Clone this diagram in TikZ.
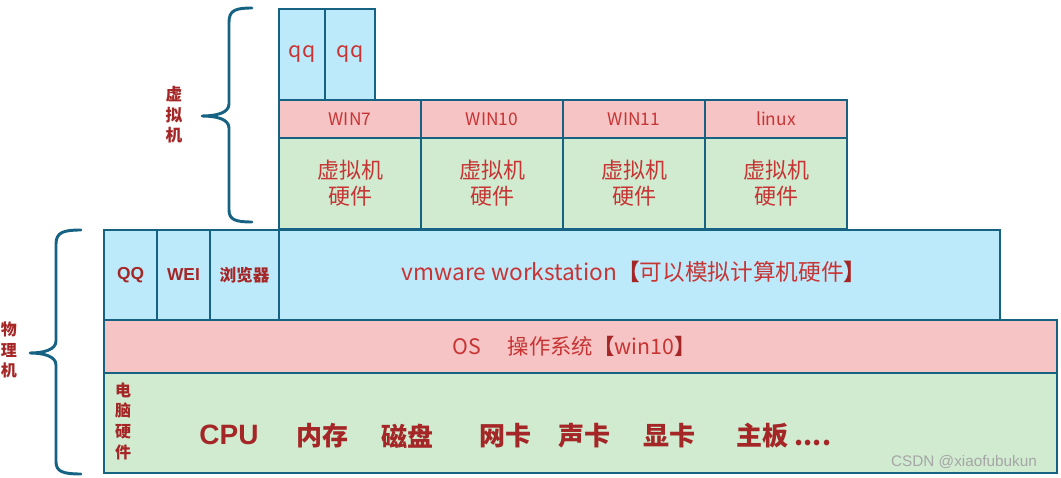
\documentclass[tikz,border=0pt]{standalone}
\usepackage{fontspec}
\setmainfont{Noto Sans CJK SC}
\newfontfamily\latinbd{Liberation Sans}
\definecolor{edge}{RGB}{22,98,130}
\definecolor{appblue}{RGB}{189,234,251}
\definecolor{ospink}{RGB}{246,196,196}
\definecolor{hwgreen}{RGB}{208,235,208}
\definecolor{lightred}{RGB}{200,52,52}
\definecolor{darkred}{RGB}{165,38,38}
\begin{document}
\begin{tikzpicture}[x=0.75pt,y=-0.75pt,
  blk/.style={draw=edge,line width=2pt},
  thin/.style={text=lightred,font=\fontsize{#1}{#1}\selectfont},
  thick/.style={text=darkred,font=\bfseries\fontsize{#1}{#1}\selectfont},
  vlab/.style={text=darkred,align=center,inner sep=0pt,font=\bfseries\fontsize{#1}{15.5}\selectfont},
  brc/.style={draw=edge,line width=2.2pt,line cap=round,line join=round}]
\useasboundingbox (0,0) rectangle (1061,478);

\draw[blk,fill=appblue] (279,9) rectangle node[thin=16] (qqa) {qq} (325,100);
\draw[blk,fill=appblue] (325,9) rectangle node[thin=16] (qqb) {qq} (375,100);

\draw[blk,fill=ospink] (279,100) rectangle node[thin=13] (win7) {WIN7} (421,138);
\draw[blk,fill=ospink] (421,100) rectangle node[thin=13] (win10) {WIN10} (563,138);
\draw[blk,fill=ospink] (563,100) rectangle node[thin=13] (win11) {WIN11} (705,138);
\draw[blk,fill=ospink] (705,100) rectangle node[thin=13] (linux) {linux} (847,138);

\draw[blk,fill=hwgreen] (279,138) rectangle node[thin=16.5,align=center] (vhwa) {虚拟机\\[3pt]硬件} (421,229);
\draw[blk,fill=hwgreen] (421,138) rectangle node[thin=16.5,align=center] (vhwb) {虚拟机\\[3pt]硬件} (563,229);
\draw[blk,fill=hwgreen] (563,138) rectangle node[thin=16.5,align=center] (vhwc) {虚拟机\\[3pt]硬件} (705,229);
\draw[blk,fill=hwgreen] (705,138) rectangle node[thin=16.5,align=center] (vhwd) {虚拟机\\[3pt]硬件} (847,229);

\draw[blk,fill=appblue] (104,230) rectangle node[thick=13,font=\latinbd\bfseries\fontsize{13}{13}\selectfont] (appqq) {QQ} (157,320);
\draw[blk,fill=appblue] (157,230) rectangle node[thick=13,font=\latinbd\bfseries\fontsize{13}{13}\selectfont] (appwei) {WEI} (210,320);
\draw[blk,fill=appblue] (210,230) rectangle node[thick=12.5] (browser) {浏览器} (279,320);
\draw[blk,fill=appblue] (279,230) rectangle (1000,320);
\node[thin=17] (vmware) at (634,272) {vmware workstation{\color{darkred}\bfseries【}可以模拟计算机硬件{\color{darkred}\bfseries】}};

\draw[blk,fill=ospink] (104,320) rectangle (1057,373);
\node[thin=16] (os) at (574,346) {OS\hspace{20pt}操作系统{\color{darkred}\bfseries【}win10{\color{darkred}\bfseries】}};

\draw[blk,fill=hwgreen] (104,373) rectangle (1057,473);
\node[vlab=12] (pchw) at (123,421) {电\\脑\\硬\\件};
\node[thick=21,font=\latinbd\bfseries\fontsize{21}{21}\selectfont] (cpu) at (229,435) {CPU};
\node[thick=19.5] (mem) at (322,436) {内存};
\node[thick=19.5] (disk) at (407,436) {磁盘};
\node[thick=19.5] (nic) at (505,436) {网卡};
\node[thick=19.5] (sound) at (584,436) {声卡};
\node[thick=19.5] (gpu) at (669,436) {显卡};
\node[thick=19.5] (board) at (784,436) {主板 ....};
\node[text=black!35,font=\latinbd\fontsize{11.5}{11.5}\selectfont] (mark) at (964,462) {CSDN @xiaofubukun};

\coordinate (vtop) at (252,8);
\coordinate (vtip) at (202,116);
\coordinate (vbot) at (252,222);
\draw[brc] (vtop) .. controls (236,8) and (229,10) .. (229,22) -- (229,104)
  .. controls (229,113) and (216,116) .. (vtip) .. controls (216,116) and (229,119) .. (229,128)
  -- (229,210) .. controls (229,220) and (236,222) .. (vbot);
\node[vlab=12.5] (vmlab) at (174,115) {虚\\拟\\机};

\coordinate (ptop) at (81,230);
\coordinate (ptip) at (30,353);
\coordinate (pbot) at (81,474);
\draw[brc] (ptop) .. controls (64,230) and (56,232) .. (56,244) -- (56,341)
  .. controls (56,350) and (43,353) .. (ptip) .. controls (43,353) and (56,356) .. (56,365)
  -- (56,462) .. controls (56,472) and (64,474) .. (pbot);
\node[vlab=12] (pmlab) at (9,350) {物\\理\\机};
\end{tikzpicture}
\end{document}
